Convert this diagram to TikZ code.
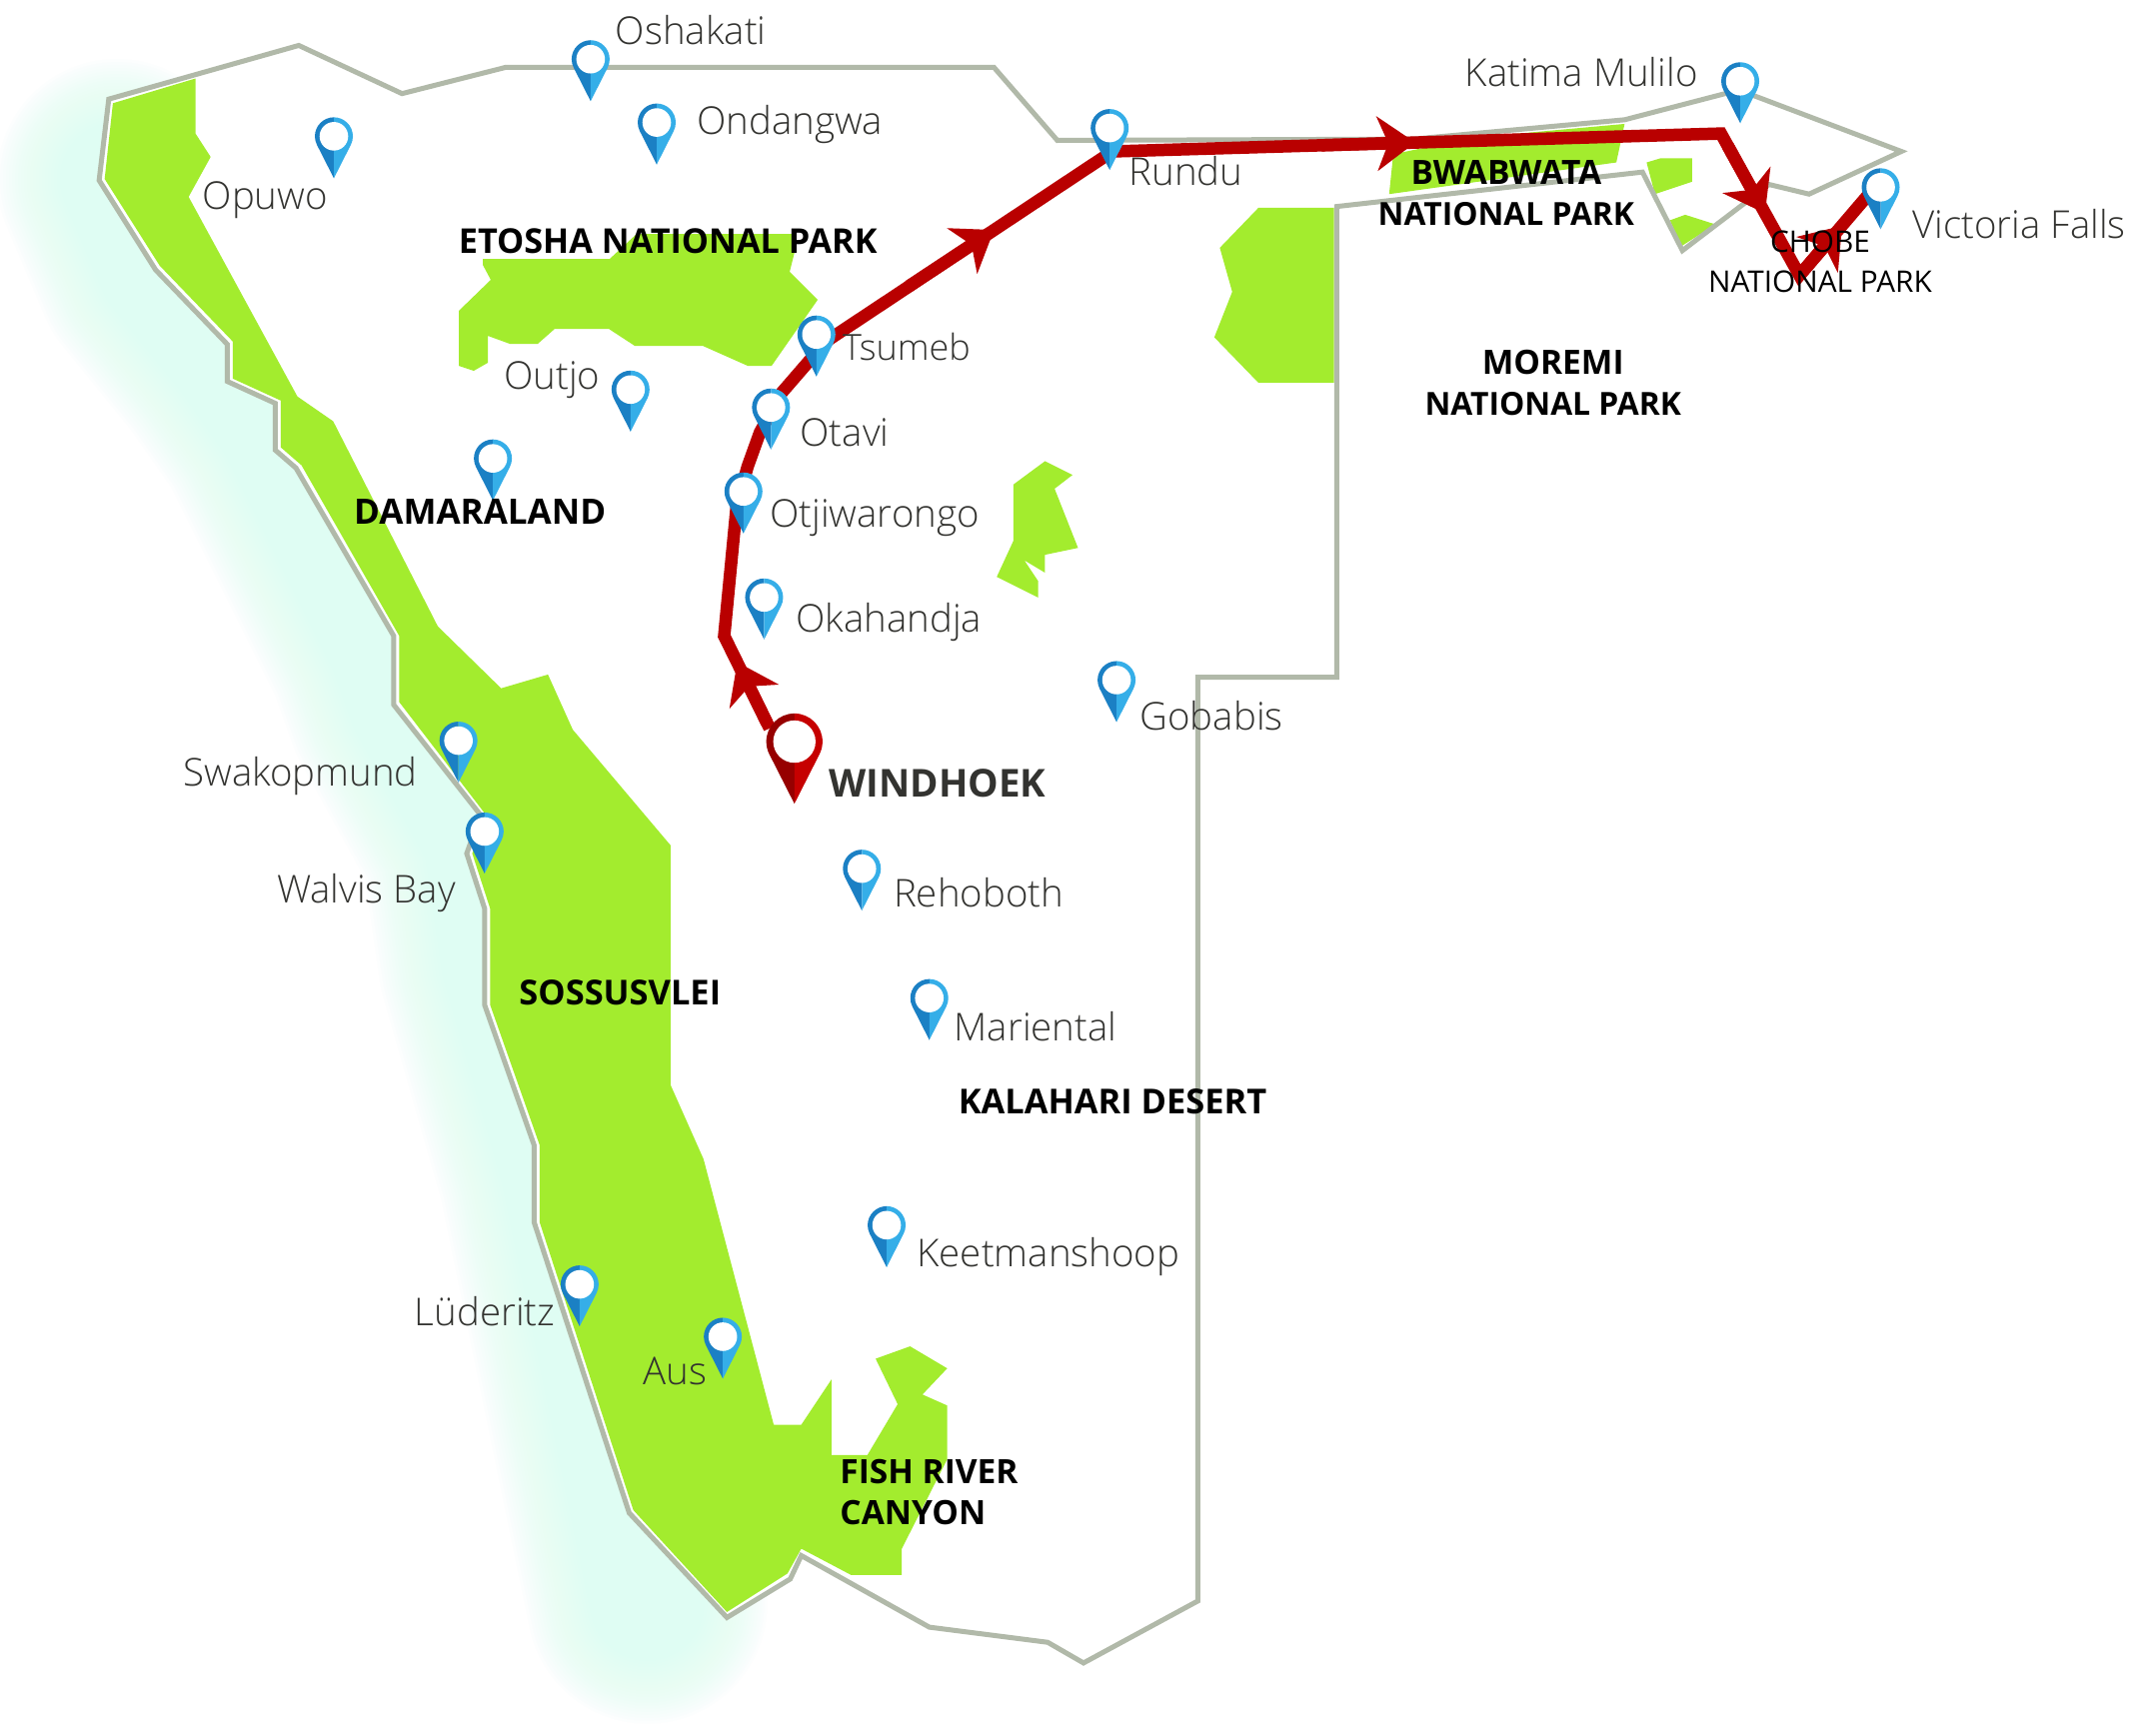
\documentclass[tikz,border=0pt]{standalone}
\usepackage{fontspec}
\usetikzlibrary{arrows.meta}
\setmainfont{Open Sans}[UprightFont=* Light,BoldFont=* Bold]
\newfontfamily\boldlab{Open Sans}[UprightFont=* Bold]
\newfontfamily\reglab{Open Sans}
\definecolor{parkgreen}{HTML}{A3EC2E}
\definecolor{bordergray}{HTML}{B1B9A9}
\definecolor{routered}{HTML}{B90000}
\definecolor{pinDark}{HTML}{1B80C4}
\definecolor{pinLight}{HTML}{35AEE8}
\definecolor{wpinDark}{HTML}{960000}
\definecolor{wpinLight}{HTML}{C60000}
\definecolor{mint}{HTML}{DFFDF3}
\definecolor{labelgray}{HTML}{333330}
\newcommand{\pinshape}[2]{%
  \begin{scope}[x=1pt,y=1pt]
  \fill[#1] (0,19) arc[start angle=90,end angle=207,radius=19] -- (0,-42) -- cycle;
  \fill[#2] (0,19) arc[start angle=90,end angle=-27,radius=19] -- (0,-42) -- cycle;
  \fill[white] (0,0) circle[radius=14.3];
  \end{scope}}
\tikzset{
  x=1.3774pt,y=-1.3774pt,
  bluepin/.pic={\pinshape{pinDark}{pinLight}},
  redpin/.pic={\pinshape{wpinDark}{wpinLight}},
  city/.style={font=\fontsize{38.4}{38.4}\selectfont,text=labelgray,anchor=base west,inner sep=0pt},
  park/.style={font=\boldlab\fontsize{33.5}{41}\selectfont,text=black,inner sep=0pt,align=center},
  border/.style={draw=bordergray,line width=5pt,line join=miter},
  park area/.style={fill=parkgreen},
  routeline/.style={draw=routered,line width=12.5pt,line join=miter},
  routehead/.style={draw=routered,line width=12.5pt,-{Stealth[length=38pt,width=54pt,inset=11pt]}},
}
\begin{document}
\begin{tikzpicture}
\useasboundingbox (0,0) rectangle (1566,1259.6);
\fill[white] (0,0) rectangle (1566,1259.6);
% coastal glow
\begin{scope}
\clip (0,0) rectangle (1566,1259.6);
\foreach \w in {240,234,...,60}{
  \draw[mint,opacity=0.07,line width=\w pt,line cap=round,line join=round]
    (85,130) -- (113,196) -- (165,260) -- (200,310) -- (280,470) -- (295,512) -- (349,610) -- (362,700) -- (405,850) -- (470,1165);
}
\end{scope}
% land
\fill[white] (79,72) -- (217,33) -- (292,68) -- (367,49) -- (722,49) -- (768,102) -- (1027,101) -- (1180,87) -- (1253,68) -- (1383,110) -- (1315,141) -- (1285,134) -- (1222,182) -- (1193,125) -- (971,150) -- (971,492) -- (870,492) -- (870,1163) -- (787,1208) -- (761,1193) -- (675,1182) -- (582,1130) -- (574,1147) -- (528,1175) -- (457,1099) -- (388,888) -- (388,832) -- (352,730) -- (352,660) -- (339,620) -- (349,592) -- (286,512) -- (286,462) -- (215,340) -- (200,327) -- (200,293) -- (165,277) -- (165,250) -- (113,196) -- (72,131) -- cycle;
% parks
\fill[park area] (82,75) -- (142,57) -- (142,97) -- (153,114) -- (137,143) -- (216,288) -- (242,306) -- (318,455) -- (364,500) -- (398,490) -- (416,530) -- (487,614) -- (487,788) -- (511,842) -- (562,1035) -- (582,1035) -- (604,1002) -- (604,1057) -- (630,1057) -- (652,1020) -- (636,987) -- (661,978) -- (688,994) -- (670,1013) -- (688,1021) -- (688,1060) -- (655,1125) -- (655,1144) -- (618,1144) -- (582,1125) -- (572,1143) -- (528,1171) -- (460,1097) -- (392,888) -- (392,832) -- (356,730) -- (356,660) -- (343,620) -- (353,592) -- (290,510) -- (290,462) -- (219,338) -- (204,325) -- (204,291) -- (169,275) -- (169,248) -- (116,193) -- (76,130) -- cycle;
\begin{scope}[x=1pt,y=-1pt]
\fill[park area] (483,259) -- (483,265) -- (491,280) -- (459,311) -- (459,366) -- (474,371) -- (488,363) -- (488,336) -- (510,344) -- (538,344) -- (555,329) -- (609,329) -- (635,346) -- (703,346) -- (748,366) -- (772,366) -- (818,300) -- (790,272) -- (795,252) -- (797,234) -- (637,234) -- (610,259) -- cycle;
\end{scope}
\fill[park area] (914,151) -- (969,151) -- (969,278) -- (914,278) -- (882,245) -- (895,212) -- (886,180) -- cycle;
\fill[park area] (759,335) -- (779,345) -- (766,355) -- (783,398) -- (759,403) -- (759,416) -- (744,407) -- (754,422) -- (754,434) -- (724,419) -- (736,393) -- (736,352) -- cycle;
\fill[park area] (1180,90) -- (1174,118) -- (1009,141) -- (1012,112) -- (1070,100) -- cycle;
\fill[park area] (1196,118) -- (1206,115) -- (1229,115) -- (1229,132) -- (1202,141) -- cycle;
\fill[park area] (1213,160) -- (1224,156) -- (1246,163) -- (1221,179) -- cycle;
% border
\draw[border] (79,72) -- (217,33) -- (292,68) -- (367,49) -- (722,49) -- (768,102) -- (1027,101) -- (1180,87) -- (1253,68) -- (1270,68) -- (1381,110) -- (1314,141) -- (1285,134) -- (1222,182) -- (1193,125) -- (971,150) -- (971,492) -- (870,492) -- (870,1163) -- (787,1208) -- (761,1193) -- (675,1182) -- (582,1130) -- (574,1147) -- (528,1175) -- (457,1099) -- (388,888) -- (388,832) -- (352,730) -- (352,660) -- (339,620) -- (349,592) -- (286,512) -- (286,462) -- (215,340) -- (200,327) -- (200,293) -- (165,277) -- (165,250) -- (113,196) -- (72,131) -- cycle;
% route waypoints
\coordinate (wh) at (559,529);
\coordinate (r1) at (526,462);
\coordinate (r2) at (535,368);
\coordinate (r3) at (543,339);
\coordinate (r3b) at (552,314);
\coordinate (r4) at (568,285);
\coordinate (r5) at (600,248);
\coordinate (r6) at (808,110);
\coordinate (r7) at (1250,97);
\coordinate (r8) at (1307,200);
\coordinate (r9) at (1360,138);
\draw[routeline] (wh) -- (r1) -- (r2) -- (r3) -- (r3b) -- (r4) -- (r5) -- (r6) -- (r7) -- (r8) -- (r9);
% route arrowheads
\coordinate (h1a) at (557,525); \coordinate (h1b) at (535.5,481);
\coordinate (h2a) at (660,208); \coordinate (h2b) at (722,167);
\coordinate (h3a) at (960,105.5); \coordinate (h3b) at (1028,103.5);
\coordinate (h4a) at (1255,106); \coordinate (h4b) at (1282,155);
\coordinate (h5a) at (1307,200); \coordinate (h5b) at (1338,164);
\draw[routehead] (h1a) -- (h1b);
\draw[routehead] (h2a) -- (h2b);
\draw[routehead] (h3a) -- (h3b);
\draw[routehead] (h4a) -- (h4b);
\draw[routehead] (h5a) -- (h5b);
% pins
\pic (pOshakati) at (429,43) {bluepin};
\pic (pOndangwa) at (477,89) {bluepin};
\pic (pOpuwo) at (242.5,99) {bluepin};
\pic (pOutjo) at (458,283) {bluepin};
\pic (pDamara) at (358,333) {bluepin};
\pic (pRundu) at (806,93) {bluepin};
\pic (pKatima) at (1264,59) {bluepin};
\pic (pVictoria) at (1366,136) {bluepin};
\pic (pTsumeb) at (593,243) {bluepin};
\pic (pOtavi) at (560,296) {bluepin};
\pic (pOtji) at (540,357) {bluepin};
\pic (pOkahandja) at (555,434) {bluepin};
\pic (pGobabis) at (811,494) {bluepin};
\pic (pSwakop) at (333,538) {bluepin};
\pic (pWalvis) at (352,604) {bluepin};
\pic (pRehoboth) at (626,631) {bluepin};
\pic (pMariental) at (675,725) {bluepin};
\pic (pKeet) at (644,890) {bluepin};
\pic (pLuderitz) at (421,933) {bluepin};
\pic (pAus) at (525,971) {bluepin};
\pic[scale=1.48] (pWindhoek) at (577,538.7) {redpin};
% city labels
\node[city] (tOshakati) at (447,32) {Oshakati};
\node[city] (tOndangwa) at (506,98) {Ondangwa};
\node[city] (tOpuwo) at (147,152) {Opuwo};
\node[city] (tOutjo) at (366,283) {Outjo};
\node[city,font=\fontsize{36}{36}\selectfont] (tTsumeb) at (612,262) {Tsumeb};
\node[city] (tOtavi) at (581,324) {Otavi};
\node[city] (tOtji) at (559,383) {Otjiwarongo};
\node[city] (tOkahandja) at (578,459) {Okahandja};
\node[city] (tRundu) at (820,135) {Rundu};
\node[city] (tGobabis) at (828,530) {Gobabis};
\node[city] (tRehoboth) at (649,659) {Rehoboth};
\node[city] (tMariental) at (693,756) {Mariental};
\node[city] (tKeet) at (666,920) {Keetmanshoop};
\node[city] (tLuderitz) at (301,963) {Lüderitz};
\node[city] (tAus) at (467,1006) {Aus};
\node[city] (tSwakop) at (133,571) {Swakopmund};
\node[city] (tWalvis) at (201,656) {Walvis Bay};
\node[city] (tKatima) at (1064,63) {Katima Mulilo};
\node[city] (tVictoria) at (1389,173) {Victoria Falls};
\node[anchor=base west,inner sep=0pt,text=labelgray,font=\boldlab\fontsize{38.5}{38.5}\selectfont] (tWindhoek) at (602,579) {WINDHOEK};
% park labels
\node[park,anchor=base west,font=\boldlab\fontsize{34.2}{41}\selectfont] (etosha) at (333,184) {ETOSHA NATIONAL PARK};
\node[park] (bwabwata) at (1094,140) {BWABWATA\\\fontsize{31.8}{41}\selectfont NATIONAL PARK};
\node[park,font=\reglab\fontsize{29.8}{40}\selectfont] (chobe) at (1322,190) {CHOBE\\NATIONAL PARK};
\node[park] (moremi) at (1128,278) {MOREMI\\\fontsize{31.8}{41}\selectfont NATIONAL PARK};
\node[park,anchor=base west,font=\boldlab\fontsize{35}{41}\selectfont] (damara) at (257,381) {DAMARALAND};
\node[park,anchor=base west,font=\boldlab\fontsize{34.4}{41}\selectfont] (sossus) at (377,730) {SOSSUSVLEI};
\node[park,anchor=base west,font=\boldlab\fontsize{34.4}{41}\selectfont] (kalahari) at (696,809) {KALAHARI DESERT};
\node[park,align=left,anchor=west] (fish) at (610,1084) {FISH RIVER\\CANYON};
\end{tikzpicture}
\end{document}
